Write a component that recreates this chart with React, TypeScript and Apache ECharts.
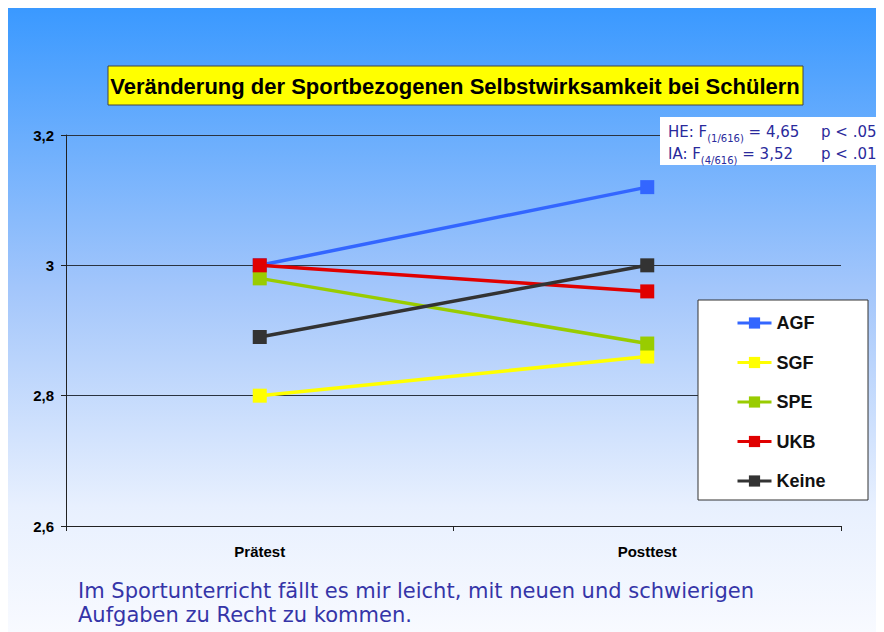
import React, { useEffect, useRef } from "react";
import * as echarts from "echarts";

const categories = ["Prätest", "Posttest"];
const seriesNames = ["AGF", "SGF", "SPE", "UKB", "Keine"];
const seriesColors = ["#3366ff", "#ffff00", "#99cc00", "#e00000", "#333333"];
const agfValues = [3.0, 3.12];
const sgfValues = [2.8, 2.86];
const speValues = [2.98, 2.88];
const ukbValues = [3.0, 2.96];
const keineValues = [2.89, 3.0];
const seriesValues = [agfValues, sgfValues, speValues, ukbValues, keineValues];
const yTicks = { min: 2.6, max: 3.2, interval: 0.2 };
const titleText = "Veränderung der Sportbezogenen Selbstwirksamkeit bei Schülern";
const statsLines = [
  { pre: "HE: F", sub: "(1/616)", post: " = 4,65", p: "p < .05" },
  { pre: "IA: F", sub: "(4/616)", post: " = 3,52", p: "p < .01" },
];
const noteLines = [
  "Im Sportunterricht fällt es mir leicht, mit neuen und schwierigen",
  "Aufgaben zu Recht zu kommen.",
];

export default function App() {
  const ref = useRef<HTMLDivElement>(null);
  useEffect(() => {
    if (!ref.current) return;
    const chart = echarts.init(ref.current, null, { renderer: "svg" });
    const statFont = "'DejaVu Sans', sans-serif";
    const arial = "'Liberation Sans', Arial, sans-serif";
    const statColor = "#2a2a9c";
    const graphics: any[] = [
      {
        type: "rect",
        shape: { x: 100, y: 58, width: 695, height: 39 },
        style: { fill: "#ffff00", stroke: "#444", lineWidth: 1 },
        z: 10,
      },
      {
        type: "text",
        x: 447,
        y: 78,
        style: {
          text: titleText,
          fill: "#000",
          font: "bold 22px 'Liberation Sans', Arial, sans-serif",
          align: "center",
          verticalAlign: "middle",
        },
        z: 11,
      },
      {
        type: "rect",
        shape: { x: 652, y: 109, width: 224, height: 48 },
        style: { fill: "#ffffff" },
        z: 10,
      },
      {
        type: "rect",
        shape: { x: 690, y: 292, width: 170, height: 200 },
        style: { fill: "#ffffff", stroke: "#333", lineWidth: 1 },
        z: 3,
      },
    ];
    statsLines.forEach((l, i) => {
      graphics.push({
        type: "text",
        x: 660,
        y: 113 + i * 22,
        style: {
          text: `{m|${l.pre}}{s|${l.sub}}{m|${l.post}}`,
          rich: {
            m: { fontSize: 15, fontFamily: statFont, fill: statColor, lineHeight: 22, verticalAlign: "middle" },
            s: { fontSize: 10, fontFamily: statFont, fill: statColor, lineHeight: 12, verticalAlign: "bottom" },
          },
          verticalAlign: "top",
        },
        z: 11,
      });
      graphics.push({
        type: "text",
        x: 813,
        y: 124 + i * 22,
        style: {
          text: l.p,
          fontSize: 15,
          fontFamily: statFont,
          fill: statColor,
          verticalAlign: "middle",
        },
        z: 11,
      });
    });
    noteLines.forEach((t, i) => {
      graphics.push({
        type: "text",
        x: 70,
        y: 583 + i * 24,
        style: {
          text: t,
          fontSize: 21,
          fontFamily: statFont,
          fill: "#3535a8",
          verticalAlign: "middle",
        },
        z: 11,
      });
    });

    chart.setOption({
      animation: false,
      grid: { left: 58, right: 43, top: 127, bottom: 106, containLabel: false },
      legend: {
        orient: "vertical",
        left: 723,
        top: 301,
        itemWidth: 34,
        itemHeight: 14,
        itemGap: 21.5,
        lineStyle: { width: 3 },
        textStyle: { fontSize: 18, fontWeight: "bold", color: "#111", fontFamily: arial },
        data: seriesNames,
        z: 5,
      },
      xAxis: {
        type: "category",
        data: categories,
        boundaryGap: true,
        axisLine: { lineStyle: { color: "#222", width: 1 } },
        axisTick: { show: true, length: 5, lineStyle: { color: "#222" } },
        axisLabel: {
          margin: 18,
          fontSize: 15,
          fontWeight: "bold",
          color: "#000",
          fontFamily: arial,
        },
      },
      yAxis: {
        type: "value",
        min: yTicks.min,
        max: yTicks.max,
        interval: yTicks.interval,
        axisLine: { show: true, lineStyle: { color: "#222", width: 1 } },
        axisTick: { show: true, length: 5, lineStyle: { color: "#222" } },
        splitLine: { show: true, lineStyle: { color: "#2a3340", width: 1 } },
        axisLabel: {
          margin: 12,
          fontSize: 15,
          fontWeight: "bold",
          color: "#000",
          fontFamily: arial,
          formatter: (v: number) => String(Math.round(v * 10) / 10).replace(".", ","),
        },
      },
      graphic: graphics,
      series: seriesNames.map((name, i) => ({
        name,
        type: "line",
        data: seriesValues[i],
        symbol: "rect",
        symbolSize: 14,
        itemStyle: { color: seriesColors[i] },
        lineStyle: { color: seriesColors[i], width: 3.5 },
        z: 2 + i * 0.01,
      })),
    });
    return () => chart.dispose();
  }, []);
  return (
    <div
      ref={ref}
      style={{
        width: 876,
        height: 624,
        background: "linear-gradient(to bottom, #3a99ff 0%, #a3c6fb 45%, #e8f0fe 80%, #f8faff 100%)",
      }}
    />
  );
}
